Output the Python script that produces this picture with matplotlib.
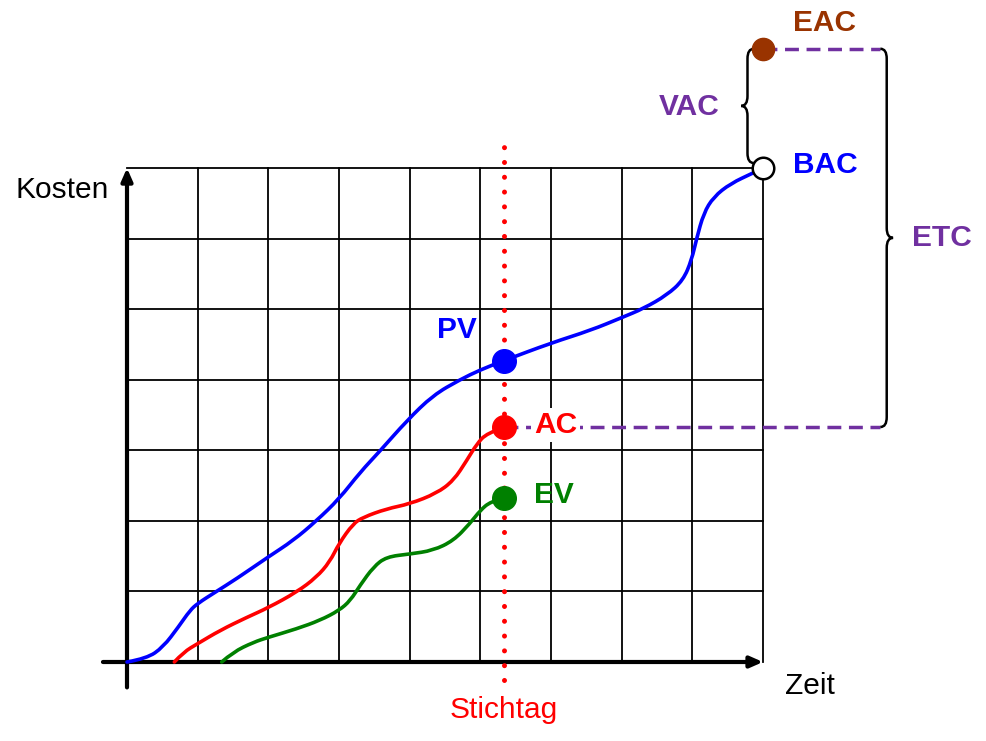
import matplotlib
matplotlib.use("Agg")
import matplotlib.pyplot as plt
from matplotlib.path import Path
from matplotlib.patches import PathPatch

plt.rcParams['font.family'] = ['Liberation Sans', 'DejaVu Sans']

# ---- data (grid units: 9 time columns x 7 cost rows) ----
pv_x = [0.0, 0.28, 0.51, 0.73, 0.89, 1.0, 1.25, 1.55, 2.0, 2.35, 2.68, 3.0, 3.30, 3.58, 3.96, 4.33, 4.71, 5.0, 5.33]
pv_y = [0.0, 0.05, 0.21, 0.50, 0.73, 0.83, 0.99, 1.18, 1.49, 1.72, 2.0, 2.31, 2.69, 2.99, 3.42, 3.78, 4.0, 4.14, 4.27]
pv_rest_x = [5.33, 6.0, 6.56, 7.0, 7.31, 7.64, 7.87, 7.99, 8.06, 8.16, 8.30, 8.54, 8.86, 9.0]
pv_rest_y = [4.27, 4.52, 4.70, 4.88, 5.01, 5.20, 5.41, 5.70, 6.0, 6.36, 6.59, 6.78, 6.93, 7.0]
ac_x = [0.67, 0.80, 1.0, 1.32, 1.69, 2.0, 2.40, 2.68, 2.87, 3.0, 3.20, 3.34, 3.67, 4.0, 4.38, 4.62, 4.81, 4.95, 5.09, 5.33]
ac_y = [0.0, 0.14, 0.26, 0.45, 0.63, 0.77, 0.99, 1.20, 1.42, 1.68, 1.96, 2.05, 2.17, 2.24, 2.39, 2.57, 2.86, 3.09, 3.24, 3.33]
ev_x = [1.34, 1.50, 1.79, 2.0, 2.40, 2.73, 3.0, 3.16, 3.30, 3.49, 3.67, 4.0, 4.33, 4.62, 4.85, 5.0, 5.14, 5.33]
ev_y = [0.0, 0.14, 0.28, 0.35, 0.47, 0.59, 0.73, 0.87, 1.09, 1.35, 1.49, 1.53, 1.58, 1.72, 1.96, 2.15, 2.27, 2.33]
stichtag = 5.33
bac = (9.0, 7.0)
eac = (9.0, 8.69)
n_cols, n_rows = 9, 7

BLUE, RED, GREEN = '#0000FF', '#FF0000', '#008000'
PURPLE, BROWN = '#7030A0', '#993300'

fig = plt.figure(figsize=(9.87, 7.41), dpi=100)
ax = fig.add_axes([0, 0, 1, 1])
ax.set_xlim(-1.797, 12.169)
ax.set_ylim(-1.1195, 9.381)
ax.axis('off')

# grid
for i in range(1, n_cols + 1):
    ax.plot([i, i], [0, n_rows], color='black', lw=1.3, zorder=1)
for j in range(1, n_rows + 1):
    ax.plot([0, n_cols], [j, j], color='black', lw=1.3, zorder=1)

# axes arrows
astyle = '-|>,head_length=0.75,head_width=0.33'
ax.annotate('', xy=(9.0, 0), xytext=(-0.34, 0),
            arrowprops=dict(arrowstyle=astyle, lw=3, color='black', shrinkA=0, shrinkB=0), zorder=2)
ax.annotate('', xy=(0, 7.0), xytext=(0, -0.36),
            arrowprops=dict(arrowstyle=astyle, lw=3, color='black', shrinkA=0, shrinkB=0), zorder=2)


def smooth_curve(xs, ys, color):
    pts = list(zip(xs, ys))
    n = len(pts)
    verts = [pts[0]]
    codes = [Path.MOVETO]
    for i in range(1, n - 1):
        if i == n - 2:
            end = pts[n - 1]
        else:
            end = ((pts[i][0] + pts[i + 1][0]) / 2, (pts[i][1] + pts[i + 1][1]) / 2)
        verts += [pts[i], end]
        codes += [Path.CURVE3, Path.CURVE3]
    ax.add_patch(PathPatch(Path(verts, codes), fill=False, lw=2.6, edgecolor=color,
                           capstyle='round', zorder=4))


smooth_curve(pv_x + pv_rest_x[1:], pv_y + pv_rest_y[1:], BLUE)
smooth_curve(ac_x, ac_y, RED)
smooth_curve(ev_x, ev_y, GREEN)

# Stichtag dotted line
ax.plot([stichtag, stichtag], [-0.26, 7.35], color=RED, lw=3.6,
        linestyle=(0, (0.01, 2.95)), dash_capstyle='round', zorder=3)

# dashed purple lines
ax.plot([ac_x[-1], 10.66], [ac_y[-1], ac_y[-1]], color=PURPLE, lw=2.5,
        linestyle=(0, (4.0, 2.2)), zorder=3)
ax.plot([eac[0], 10.66], [eac[1], eac[1]], color=PURPLE, lw=2.5,
        linestyle=(0, (4.0, 2.2)), zorder=3)

# markers
ax.plot([pv_x[-1]], [pv_y[-1]], 'o', color=BLUE, ms=17, zorder=6)
ax.plot([ac_x[-1]], [ac_y[-1]], 'o', color=RED, ms=17, zorder=6)
ax.plot([ev_x[-1]], [ev_y[-1]], 'o', color=GREEN, ms=17, zorder=6)
ax.plot([bac[0]], [bac[1]], 'o', mfc='white', mec='black', mew=1.8, ms=15.5, zorder=6)
ax.plot([eac[0]], [eac[1]], 'o', color=BROWN, ms=16, zorder=6)


def brace(x, y0, y1, d, h=0.09, r=0.14):
    ym = (y0 + y1) / 2
    verts = [(x - d * h, y1), (x, y1), (x, y1 - r),
             (x, ym + r),
             (x, ym), (x + d * h, ym),
             (x, ym), (x, ym - r),
             (x, y0 + r),
             (x, y0), (x - d * h, y0)]
    codes = [Path.MOVETO, Path.CURVE3, Path.CURVE3,
             Path.LINETO,
             Path.CURVE3, Path.CURVE3,
             Path.CURVE3, Path.CURVE3,
             Path.LINETO,
             Path.CURVE3, Path.CURVE3]
    ax.add_patch(PathPatch(Path(verts, codes), fill=False, lw=1.8, edgecolor='black', zorder=5))


brace(8.78, 7.07, 8.69, -1)
brace(10.75, 3.33, 8.69, +1)

# texts
fs = 21.5
ax.text(-0.92, 6.69, 'Kosten', fontsize=fs, ha='center', va='center', color='black')
ax.text(9.66, -0.34, 'Zeit', fontsize=fs, ha='center', va='center', color='black')
ax.text(stichtag, -0.68, 'Stichtag', fontsize=fs, ha='center', va='center', color=RED)
ax.text(4.67, 4.70, 'PV', fontsize=fs, ha='center', va='center', color=BLUE, fontweight='bold')
ax.text(5.76, 3.36, 'AC', fontsize=fs, ha='left', va='center', color=RED, fontweight='bold',
        bbox=dict(facecolor='white', edgecolor='none', pad=2), zorder=7)
ax.text(5.76, 2.37, 'EV', fontsize=fs, ha='left', va='center', color=GREEN, fontweight='bold')
ax.text(9.42, 7.04, 'BAC', fontsize=fs, ha='left', va='center', color=BLUE, fontweight='bold')
ax.text(9.42, 9.05, 'EAC', fontsize=fs, ha='left', va='center', color=BROWN, fontweight='bold')
ax.text(7.95, 7.86, 'VAC', fontsize=fs, ha='center', va='center', color=PURPLE, fontweight='bold')
ax.text(11.11, 6.01, 'ETC', fontsize=fs, ha='left', va='center', color=PURPLE, fontweight='bold')

fig.savefig('out.png', dpi=100)
